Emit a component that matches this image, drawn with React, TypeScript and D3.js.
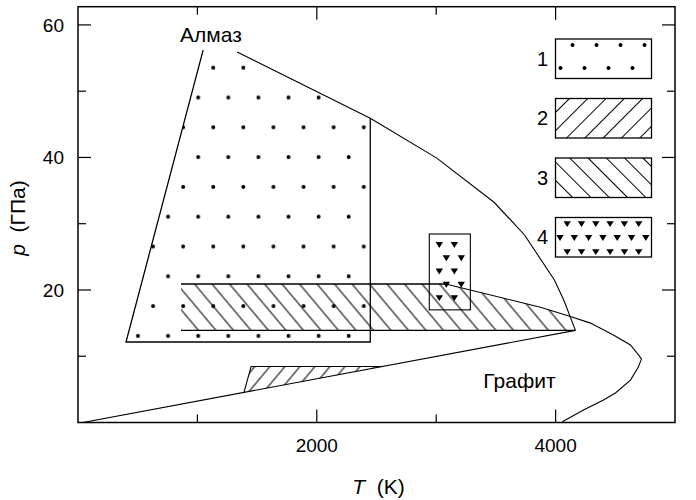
import React from "react";
import * as d3 from "d3";

const W = 696;
const H = 500;
const FONT = "'Liberation Sans', Arial, Helvetica, sans-serif";

// ---- axes ----
const tDomain = [0, 5000];
const pDomain = [0, 62.75];
const tMajorTicks = [2000, 4000];
const tMinorTicks = [1000, 3000];
const pMajorTicks = [20, 40, 60];
const pMinorTicks = [10, 30, 50];

// ---- phase boundaries (T in K, p in GPa) ----
const gdLineT = [40, 4166];
const gdLineP = [0, 13.9];

const diamondMeltT = [1333, 2448, 3005, 3487, 3740, 3990, 4070, 4166];
const diamondMeltP = [55.9, 45.9, 39.9, 33.2, 28.3, 21.5, 18.4, 13.9];

const graphiteMeltT = [3080, 3873, 4124, 4292, 4484, 4627, 4694, 4719, 4694, 4627, 4501, 4401, 4233, 4057];
const graphiteMeltP = [20.9, 17.4, 16.0, 15.0, 13.2, 11.7, 10.2, 9.6, 8.4, 6.4, 4.45, 3.4, 1.9, 0.1];

// ---- region 1 (dots) ----
const region1T = [1048, 402, 2448, 2448];
const region1P = [56.2, 12.15, 12.15, 45.9];

// ---- region 2 (/ hatch) ----
const region2T = [1390, 1450, 2560];
const region2P = [4.55, 8.45, 8.45];

// ---- region 3 (\ hatch) ----
const region3T = [863, 3080, 3873, 4124, 4166, 863];
const region3P = [20.9, 20.9, 17.4, 16.0, 13.9, 13.9];

// ---- region 4 (triangles) ----
const region4T = [2942, 3286];
const region4P = [17.0, 28.45];
const region4RowP = [26.8, 24.8, 22.8, 20.8, 18.8];
const region4ColsEven = [3026, 3152];
const region4ColsOdd = [3085, 3210];

// ---- labels ----
const phaseLabels = ["Алмаз", "Графит"];
const phaseLabelT = [855, 3395];
const phaseLabelP = [57.4, 5.2];
const legendLabels = ["1", "2", "3", "4"];

const zip = (a: number[], b: number[]) => a.map((v, i) => [v, b[i]] as [number, number]);

export default function App() {
  const x = d3.scaleLinear().domain(tDomain).range([78, 675]);
  const y = d3.scaleLinear().domain(pDomain).range([422.5, 6.7]);
  const [x0, x1] = x.range();
  const [y0, y1] = y.range();

  const line = d3
    .line<[number, number]>()
    .x((d) => x(d[0]))
    .y((d) => y(d[1]));

  const gdPts = zip(gdLineT, gdLineP);
  const dmPts = zip(diamondMeltT, diamondMeltP);
  const gmPts = zip(graphiteMeltT, graphiteMeltP);
  const r1Pts = zip(region1T, region1P);
  const r2Pts = zip(region2T, region2P);
  const r3Pts = zip(region3T, region3P);

  // region 1 clip polygon: outline + top along diamond melting curve
  const r1Poly = [...r1Pts, dmPts[1], dmPts[0]];

  const majorLen = 13;
  const minorLen = 8;

  const tri = (cx: number, cy: number) =>
    `M${cx - 3.7},${cy - 2.8}L${cx + 3.7},${cy - 2.8}L${cx},${cy + 3.1}Z`;

  const r4Tris: [number, number][] = [];
  region4RowP.forEach((p, i) => {
    const cols = i % 2 === 0 ? region4ColsEven : region4ColsOdd;
    cols.forEach((t) => r4Tris.push([x(t), y(p)]));
  });

  // legend layout
  const lgX = 555.5;
  const lgW = 96;
  const lgH = 39.5;
  const lgTop = (i: number) => 39 + i * 59.5;

  const legendDots: [number, number][] = [];
  [0, 1, 2, 3].forEach((k) => {
    legendDots.push([lgX + 17 + k * 24, lgTop(0) + 6]);
    legendDots.push([lgX + 5 + k * 24, lgTop(0) + 29]);
  });
  const legendTris: [number, number][] = [];
  for (let k = 0; k < 6; k++) legendTris.push([lgX + 11.7 + k * 14.3, lgTop(3) + 6.5]);
  for (let k = 0; k < 7; k++) legendTris.push([lgX + 4.5 + k * 14.3, lgTop(3) + 20.3]);
  for (let k = 0; k < 6; k++) legendTris.push([lgX + 11.7 + k * 14.3, lgTop(3) + 34.5]);

  const d3sp = 17.5 * Math.sin((50 * Math.PI) / 180);
  const d2sp = 15 * Math.sin((50 * Math.PI) / 180);
  const dLg = 18.3 * Math.sin(Math.PI / 4);
  const hw = 1.05;

  return (
    <svg
      width={W}
      height={H}
      viewBox={`0 0 ${W} ${H}`}
      style={{ position: "absolute", left: 0, top: 0, background: "#fff" }}
      fontFamily={FONT}
    >
      <defs>
        <pattern id="dots" patternUnits="userSpaceOnUse" x={130.5} y={321} width={30.1} height={59.6}>
          <circle cx={7.5} cy={15} r={2} fill="#000" />
          <circle cx={22.55} cy={44.8} r={2} fill="#000" />
        </pattern>
        <pattern id="hatch3" patternUnits="userSpaceOnUse" width={d3sp} height={d3sp} patternTransform="rotate(-40)">
          <line x1={d3sp / 2} y1={-1} x2={d3sp / 2} y2={d3sp + 1} stroke="#000" strokeWidth={hw} />
        </pattern>
        <pattern id="hatch2" patternUnits="userSpaceOnUse" width={d2sp} height={d2sp} patternTransform="rotate(40)">
          <line x1={d2sp / 2} y1={-1} x2={d2sp / 2} y2={d2sp + 1} stroke="#000" strokeWidth={hw} />
        </pattern>
        <pattern id="lgHatch2" patternUnits="userSpaceOnUse" width={dLg} height={dLg} patternTransform="rotate(45)">
          <line x1={dLg / 2} y1={-1} x2={dLg / 2} y2={dLg + 1} stroke="#000" strokeWidth={hw} />
        </pattern>
        <pattern id="lgHatch3" patternUnits="userSpaceOnUse" width={dLg} height={dLg} patternTransform="rotate(-45)">
          <line x1={dLg / 2} y1={-1} x2={dLg / 2} y2={dLg + 1} stroke="#000" strokeWidth={hw} />
        </pattern>
        <clipPath id="plotClip">
          <rect x={x0} y={y1} width={x1 - x0} height={y0 - y1} />
        </clipPath>
      </defs>

      <g clipPath="url(#plotClip)">
        {/* region 1 dots */}
        <path d={line(r1Poly) + "Z"} fill="url(#dots)" stroke="none" />
        {/* region 3 hatch */}
        <path d={line(r3Pts) + "Z"} fill="url(#hatch3)" stroke="none" />
        {/* region 2 hatch */}
        <path d={line(r2Pts) + "Z"} fill="url(#hatch2)" stroke="none" />

        {/* region 1 outline: left, bottom, right */}
        <path d={line(r1Pts) || ""} fill="none" stroke="#000" strokeWidth={1.3} />
        {/* region 3 top and bottom edges */}
        <path d={line([r3Pts[0], r3Pts[1]]) || ""} fill="none" stroke="#000" strokeWidth={1.3} />
        <path d={line([r3Pts[5], r3Pts[4]]) || ""} fill="none" stroke="#000" strokeWidth={1.3} />
        {/* region 2 outline: left + top */}
        <path d={line(r2Pts) || ""} fill="none" stroke="#000" strokeWidth={1.1} />

        {/* region 4 */}
        <rect
          x={x(region4T[0])}
          y={y(region4P[1])}
          width={x(region4T[1]) - x(region4T[0])}
          height={y(region4P[0]) - y(region4P[1])}
          fill="none"
          stroke="#000"
          strokeWidth={1.1}
        />
        {r4Tris.map(([cx, cy], i) => (
          <path key={i} d={tri(cx, cy)} fill="#000" />
        ))}

        {/* phase boundaries */}
        <path d={line(gdPts) || ""} fill="none" stroke="#000" strokeWidth={1.1} />
        <path d={line(dmPts) || ""} fill="none" stroke="#000" strokeWidth={1.1} />
        <path d={line(gmPts) || ""} fill="none" stroke="#000" strokeWidth={1.1} />
      </g>

      {/* phase labels */}
      {phaseLabels.map((s, i) => (
        <text key={s} x={x(phaseLabelT[i])} y={y(phaseLabelP[i])} fontSize={21} fill="#000">
          {s}
        </text>
      ))}

      {/* legend */}
      {legendLabels.map((s, i) => (
        <g key={s}>
          <rect
            x={lgX}
            y={lgTop(i)}
            width={lgW}
            height={lgH}
            fill={i === 1 ? "url(#lgHatch2)" : i === 2 ? "url(#lgHatch3)" : "#fff"}
            stroke="#000"
            strokeWidth={1.3}
          />
          <text x={548} y={lgTop(i) + lgH / 2} dy="0.36em" textAnchor="end" fontSize={20} fill="#000">
            {s}
          </text>
        </g>
      ))}
      {legendDots.map(([cx, cy], i) => (
        <circle key={"ld" + i} cx={cx} cy={cy} r={2} fill="#000" />
      ))}
      {legendTris.map(([cx, cy], i) => (
        <path key={"lt" + i} d={tri(cx, cy)} fill="#000" />
      ))}

      {/* frame */}
      <rect x={x0} y={y1} width={x1 - x0} height={y0 - y1} fill="none" stroke="#000" strokeWidth={1.5} />

      {/* ticks */}
      {[...tMajorTicks.map((t) => [t, majorLen]), ...tMinorTicks.map((t) => [t, minorLen])].map(([t, len]) => (
        <g key={"t" + t}>
          <line x1={x(t)} x2={x(t)} y1={y0} y2={y0 - len} stroke="#000" strokeWidth={1.2} />
          <line x1={x(t)} x2={x(t)} y1={y1} y2={y1 + len} stroke="#000" strokeWidth={1.2} />
        </g>
      ))}
      {[...pMajorTicks.map((p) => [p, majorLen]), ...pMinorTicks.map((p) => [p, minorLen])].map(([p, len]) => (
        <g key={"p" + p}>
          <line x1={x0} x2={x0 + len} y1={y(p)} y2={y(p)} stroke="#000" strokeWidth={1.2} />
          <line x1={x1} x2={x1 - len} y1={y(p)} y2={y(p)} stroke="#000" strokeWidth={1.2} />
        </g>
      ))}

      {/* tick labels */}
      {tMajorTicks.map((t) => (
        <text key={"tl" + t} x={x(t)} y={452} textAnchor="middle" fontSize={19} fill="#000">
          {t}
        </text>
      ))}
      {pMajorTicks.map((p) => (
        <text key={"pl" + p} x={64} y={y(p)} dy="0.36em" textAnchor="end" fontSize={19} fill="#000">
          {p}
        </text>
      ))}

      {/* axis titles */}
      <text x={(x0 + x1) / 2 + 2} y={494} textAnchor="middle" fontSize={21} fill="#000">
        <tspan fontStyle="italic">T</tspan>
        <tspan>{"\u00a0\u00a0(K)"}</tspan>
      </text>
      <text transform={`translate(25, 218) rotate(-90)`} textAnchor="middle" fontSize={21} fill="#000">
        <tspan fontStyle="italic">p</tspan>
        <tspan>{"\u00a0\u00a0(ГПа)"}</tspan>
      </text>
    </svg>
  );
}
